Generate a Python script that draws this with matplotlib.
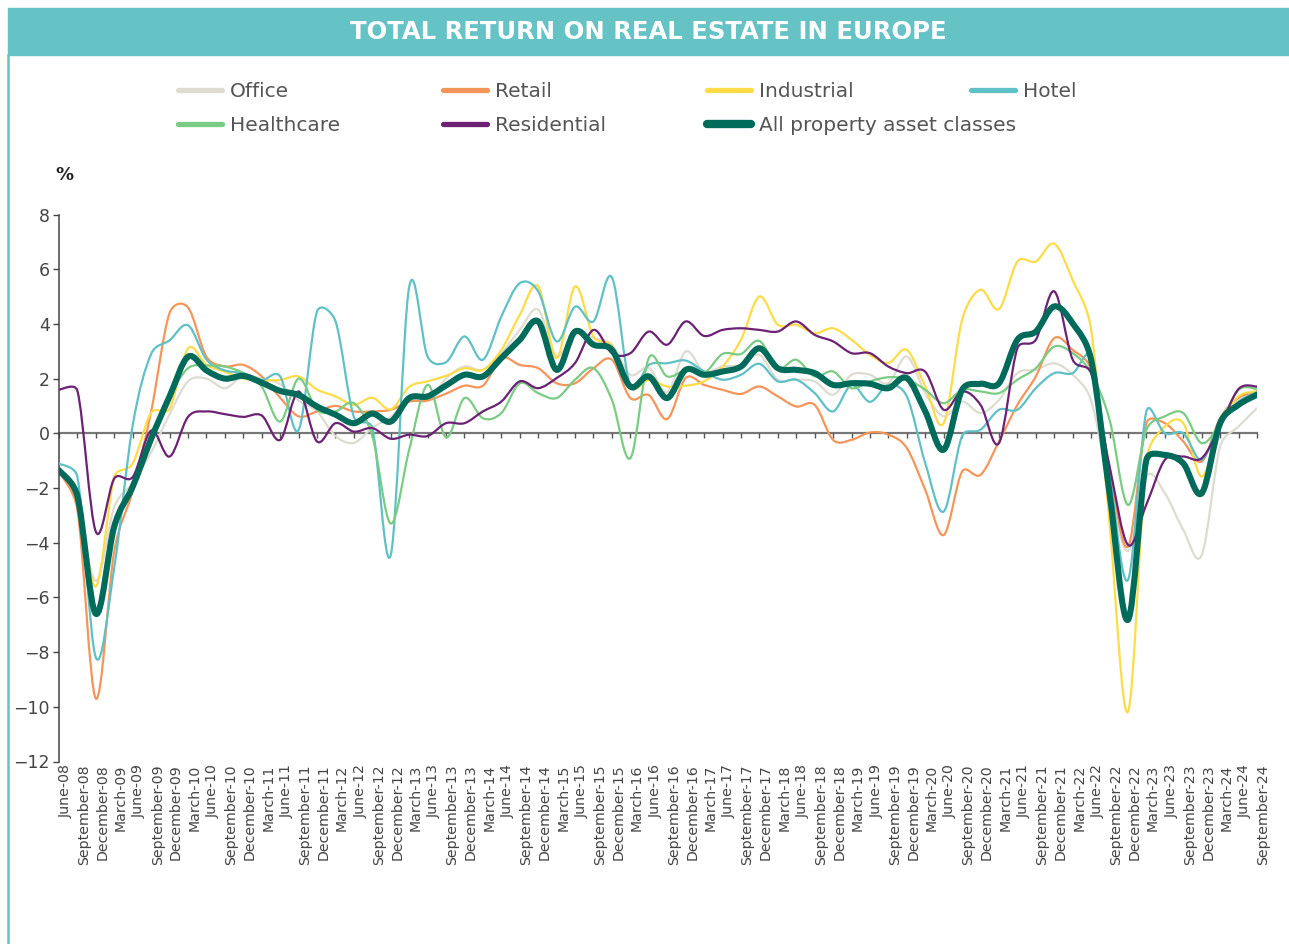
import numpy as np
import matplotlib
matplotlib.use("Agg")
import matplotlib.pyplot as plt
from matplotlib.path import Path
from matplotlib.patches import PathPatch, Rectangle
from matplotlib.lines import Line2D
from matplotlib.transforms import ScaledTranslation

quarters = [
    "June-08", "September-08", "December-08", "March-09", "June-09", "September-09",
    "December-09", "March-10", "June-10", "September-10", "December-10", "March-11",
    "June-11", "September-11", "December-11", "March-12", "June-12", "September-12",
    "December-12", "March-13", "June-13", "September-13", "December-13", "March-14",
    "June-14", "September-14", "December-14", "March-15", "June-15", "September-15",
    "December-15", "March-16", "June-16", "September-16", "December-16", "March-17",
    "June-17", "September-17", "December-17", "March-18", "June-18", "September-18",
    "December-18", "March-19", "June-19", "September-19", "December-19", "March-20",
    "June-20", "September-20", "December-20", "March-21", "June-21", "September-21",
    "December-21", "March-22", "June-22", "September-22", "December-22", "March-23",
    "June-23", "September-23", "December-23", "March-24", "June-24", "September-24",
]

office = [-1.4, -2.6, -5.4, -2.7, -1.8, -0.7, 0.7, 1.9, 2.0, 1.65, 2.1, 2.0,
          1.8, 1.2, 0.8, -0.1, -0.35, 0.2, 0.6, 1.2, 1.2, 2.0, 2.44, 2.32,
          2.93, 3.78, 4.52, 2.8, 3.78, 3.48, 3.24, 2.14, 2.4, 1.5, 2.99, 2.26,
          2.44, 2.5, 2.87, 1.96, 1.96, 1.9, 1.41, 2.14, 2.14, 1.83, 2.81, 1.47,
          0.62, 1.16, 0.74, 1.22, 2.2, 2.32, 2.56, 2.14, 1.2, -2.0, -4.3, -1.58,
          -2.19, -3.53, -4.45, -0.48, 0.25, 0.92]
retail = [-1.4, -2.8, -9.7, -4.3, -2.1, 0.8, 4.4, 4.6, 2.8, 2.45, 2.5, 2.08,
          1.3, 0.62, 0.8, 1.0, 0.8, 0.8, 0.86, 1.16, 1.2, 1.45, 1.74, 1.74,
          2.75, 2.5, 2.38, 1.83, 1.83, 2.38, 2.69, 1.29, 1.4, 0.52, 2.02, 1.77,
          1.59, 1.44, 1.71, 1.35, 0.98, 1.04, -0.24, -0.24, 0.03, -0.05, -0.54, -2.07,
          -3.72, -1.4, -1.52, -0.3, 1.04, 2.08, 3.48, 3.05, 2.32, -1.3, -4.14, 0.37,
          0.37, -0.3, -1.03, 0.55, 1.29, 1.53]
industrial = [-1.4, -2.4, -5.6, -1.6, -1.1, 0.75, 0.9, 3.1, 2.5, 2.25, 2.0, 1.95,
              1.95, 2.08, 1.6, 1.35, 1.04, 1.3, 0.88, 1.7, 1.9, 2.1, 2.38, 2.32,
              3.05, 4.33, 5.37, 2.75, 5.37, 3.54, 3.18, 1.65, 1.95, 1.71, 1.74, 1.9,
              2.44, 3.42, 5.0, 3.97, 3.97, 3.66, 3.84, 3.42, 2.87, 2.57, 3.05, 1.71,
              0.37, 4.15, 5.25, 4.54, 6.28, 6.28, 6.93, 5.6, 3.78, -3.3, -10.18, -0.97,
              0.25, 0.37, -1.58, 0.37, 1.35, 1.53]
hotel = [-1.1, -1.6, -8.2, -4.9, 0.3, 2.9, 3.4, 3.95, 2.7, 2.3, 2.2, 1.95,
         2.08, 0.12, 4.45, 4.1, 0.6, 0.2, -4.45, 5.35, 2.8, 2.6, 3.54, 2.69,
         4.27, 5.49, 5.19, 3.36, 4.63, 4.09, 5.7, 1.71, 2.5, 2.56, 2.66, 2.26,
         1.96, 2.14, 2.54, 1.9, 1.96, 1.47, 0.8, 1.77, 1.15, 1.77, 1.35, -1.09,
         -2.86, -0.1, 0.13, 0.86, 0.86, 1.65, 2.2, 2.2, 2.81, -1.5, -5.36, 0.8,
         0.0, 0.0, -0.97, 0.43, 1.16, 1.5]
# healthcare series starts in December-09
healthcare = [np.nan, np.nan, np.nan, np.nan, np.nan, np.nan, 1.4, 2.38, 2.48, 2.44, 2.2, 1.7,
              0.43, 2.0, 0.86, 0.8, 1.1, -0.1, -3.3, -0.6, 1.77, -0.15, 1.29, 0.55,
              0.74, 1.83, 1.47, 1.29, 1.96, 2.38, 1.22, -0.91, 2.75, 2.08, 2.3, 2.2,
              2.9, 2.9, 3.38, 2.38, 2.69, 2.08, 2.26, 1.65, 1.9, 2.05, 1.98, 1.59,
              1.1, 1.59, 1.53, 1.47, 1.96, 2.38, 3.17, 2.93, 2.2, 0.5, -2.62, 0.13,
              0.62, 0.74, -0.36, 0.37, 1.59, 1.62]
residential = [1.6, 1.55, -3.6, -1.65, -1.6, 0.1, -0.85, 0.6, 0.8, 0.7, 0.6, 0.65,
               -0.24, 1.53, -0.3, 0.37, 0.06, 0.19, -0.2, -0.05, -0.1, 0.37, 0.37, 0.8,
               1.16, 1.9, 1.65, 2.02, 2.57, 3.78, 2.93, 2.93, 3.72, 3.24, 4.09, 3.56,
               3.78, 3.84, 3.78, 3.72, 4.09, 3.6, 3.36, 2.93, 2.93, 2.44, 2.2, 2.25,
               0.86, 1.53, 1.04, -0.36, 3.11, 3.42, 5.19, 2.69, 2.2, -1.2, -4.08, -2.6,
               -0.97, -0.85, -0.91, 0.25, 1.62, 1.71]
all_property = [-1.35, -2.3, -6.6, -3.4, -1.95, -0.2, 1.35, 2.8, 2.3, 2.0, 2.1, 1.85,
                1.55, 1.4, 0.98, 0.68, 0.37, 0.72, 0.43, 1.29, 1.35, 1.75, 2.14, 2.08,
                2.75, 3.42, 4.09, 2.32, 3.72, 3.24, 3.05, 1.71, 2.08, 1.29, 2.32, 2.14,
                2.26, 2.44, 3.11, 2.38, 2.32, 2.2, 1.77, 1.83, 1.81, 1.65, 2.02, 0.8,
                -0.6, 1.59, 1.81, 1.83, 3.42, 3.72, 4.64, 4.02, 2.69, -2.2, -6.82, -0.97,
                -0.79, -1.1, -2.19, 0.37, 1.04, 1.41]

series = [
    ("Office", office, "#DEDBD1", 1.6),
    ("Retail", retail, "#F5955A", 1.6),
    ("Industrial", industrial, "#FDDC47", 1.6),
    ("Hotel", hotel, "#5FC1C6", 1.6),
    ("Healthcare", healthcare, "#7ACB83", 1.6),
    ("Residential", residential, "#6C2174", 1.6),
    ("All property asset classes", all_property, "#006A5B", 4.4),
]

W, H = 1289, 944
# pixel size of one unit on each axis, used so smoothing behaves like on screen
PX_X, PX_Y = 18.42, 27.35


def smooth_path(xs, ys):
    # excel style smoothed line: bezier through every point,
    # control arms capped at half the segment so flat parts don't bulge
    keep = ~np.isnan(ys)
    pts = np.column_stack([xs[keep], ys[keep]])
    scale = np.array([PX_X, PX_Y])
    n = len(pts)
    arms = []
    for i in range(n):
        p0 = pts[max(i - 1, 0)]
        p2 = pts[min(i + 1, n - 1)]
        arms.append((p2 - p0) / 6)
    verts = [pts[0]]
    codes = [Path.MOVETO]
    for i in range(n - 1):
        p1, p2 = pts[i], pts[i + 1]
        seg = np.hypot(*((p2 - p1) * scale))
        a1, a2 = arms[i].copy(), arms[i + 1].copy()
        for a in (a1, a2):
            ln = np.hypot(*(a * scale))
            if ln > 0.5 * seg:
                a *= 0.5 * seg / ln
        verts += [p1 + a1, p2 - a2, p2]
        codes += [Path.CURVE4] * 3
    return Path(verts, codes)


fig = plt.figure(figsize=(W / 100, H / 100), dpi=100)
plt.rcParams['font.family'] = 'DejaVu Sans'

# title band and left border
fig.patches.append(Rectangle((8 / W, 1 - 55 / H), 1 - 8 / W, 47 / H,
                             transform=fig.transFigure, color="#65C2C5", zorder=0))
fig.lines.append(Line2D([8 / W, 8 / W], [0, 1 - 55 / H], transform=fig.transFigure,
                        color="#65C2C5", lw=1.8))
fig.text(0.5027, 1 - 32 / H, "TOTAL RETURN ON REAL ESTATE IN EUROPE", color="white",
         fontsize=17.5, fontweight="bold", ha="center", va="center")
fig.text(55 / W, 1 - 175 / H, "%", fontsize=13, fontweight="bold", color="#222222",
         ha="left", va="center")

ax = fig.add_axes([59 / W, 1 - 761.5 / H, (1257 - 59) / W, (761.5 - 214.5) / H])
x = np.arange(len(quarters))

for name, vals, col, lw in series:
    p = PathPatch(smooth_path(x, np.array(vals, dtype=float)), fill=False, edgecolor=col,
                  lw=lw, capstyle="round", joinstyle="round", zorder=3)
    ax.add_patch(p)

ax.set_xlim(0, len(quarters) - 1)
ax.set_ylim(-12, 8)
ax.set_yticks(np.arange(-12, 9, 2))
ax.tick_params(axis="y", length=4.5, width=1, color="#444444", labelsize=12.5,
               labelcolor="#444444", pad=2)

for s in ["top", "right"]:
    ax.spines[s].set_visible(False)
ax.spines["left"].set_color("#444444")
ax.spines["left"].set_linewidth(1.1)
ax.spines["bottom"].set_position(("data", 0))
ax.spines["bottom"].set_color("#777777")
ax.spines["bottom"].set_linewidth(1.6)
ax.spines["bottom"].set_zorder(1)
ax.set_xticks(x)
ax.tick_params(axis="x", direction="out", length=3.5, width=1, color="#555555",
               labelbottom=False)

# category labels under the plot
sec = ax.secondary_xaxis(0.0)
sec.set_xticks(x, labels=quarters)
sec.tick_params(length=0, pad=2, labelsize=10.2, labelcolor="#444444", rotation=90)
sec.spines["bottom"].set_visible(False)
shift = ScaledTranslation(6.5 / 100, 0, fig.dpi_scale_trans)
for lab in sec.get_xticklabels():
    lab.set_transform(lab.get_transform() + shift)

# legend in four columns
handles = {}
for name, vals, col, lw in series:
    handles[name] = Line2D([], [], color=col, lw=(6.0 if lw > 2 else 3.8),
                           solid_capstyle="round")
columns = [["Office", "Healthcare"], ["Retail", "Residential"],
           ["Industrial", "All property asset classes"], ["Hotel"]]
col_x = [178, 443, 707, 971]
for names, cx in zip(columns, col_x):
    fig.legend([handles[n] for n in names], names, loc="upper left",
               bbox_to_anchor=(cx / W, 1 - 82 / H), frameon=False, fontsize=14.5,
               labelcolor="#555555", handlelength=2.2, handletextpad=0.4,
               borderpad=0, borderaxespad=0, labelspacing=0.74)

fig.savefig("out.png", dpi=100)
